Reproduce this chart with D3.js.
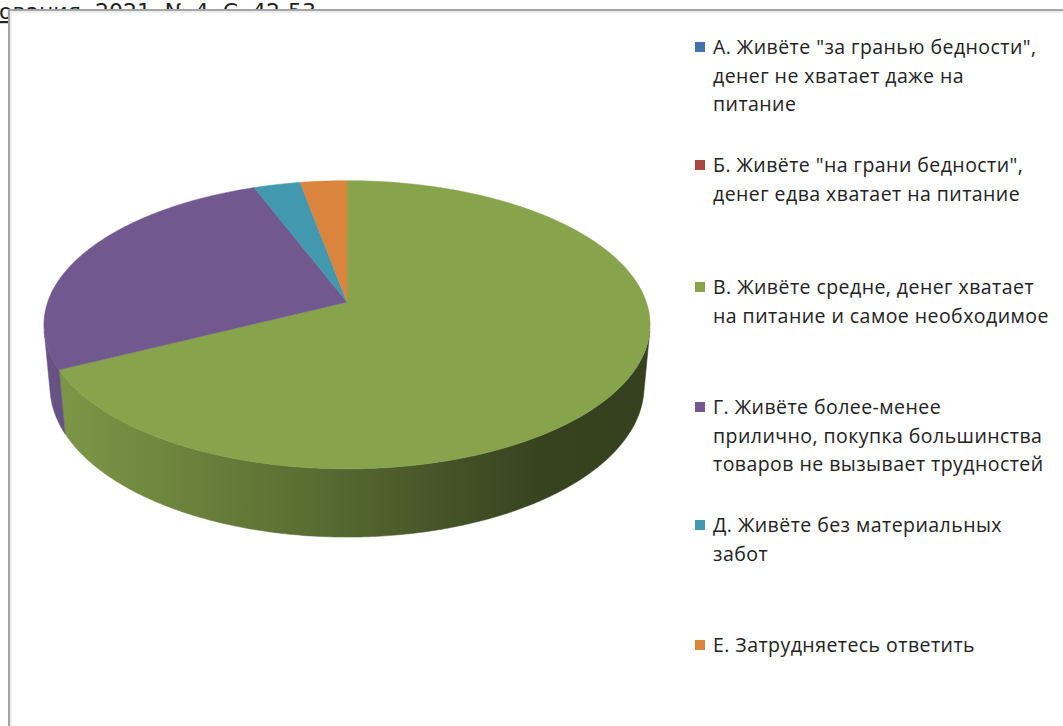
<!DOCTYPE html>
<html><head><meta charset="utf-8">
<script src="https://cdn.jsdelivr.net/npm/d3@7"></script>
<style>body{margin:0;background:#fff;overflow:hidden}svg{display:block}</style>
</head><body>
<svg id="c" width="1063" height="726"></svg>
<script>
// ---- data ----
const categories = ["А","Б","В","Г","Д","Е"];
const labelLines = [
  ["А. Живёте \"за гранью бедности\",","денег не хватает даже на","питание"],
  ["Б. Живёте \"на грани бедности\",","денег едва хватает на питание"],
  ["В. Живёте средне, денег хватает","на питание и самое необходимое"],
  ["Г. Живёте более-менее","прилично, покупка большинства","товаров не вызывает трудностей"],
  ["Д. Живёте без материальных","забот"],
  ["Е. Затрудняетесь ответить"]
];
const values = [0, 0, 67.6, 26.6, 2.9, 2.9];
const colors = ["#4572A7","#AA4643","#87A34C","#71588F","#4198AF","#DB843D"];
const sourceText = "исследования. 2021. № 4. С. 42-53";

// ---- layout ----
const svg = d3.select("#c");
// source caption behind the chart box
svg.append("text").attr("x", 316).attr("y", 19).attr("text-anchor","end")
  .attr("font-family","DejaVu Sans").attr("font-size",22).attr("fill","#222")
  .attr("text-decoration","underline").text(sourceText);
// chart box
svg.append("rect").attr("x",9).attr("y",10).attr("width",1100).attr("height",800)
  .attr("fill","#fff").attr("stroke","#a4a4a4").attr("stroke-width",2);
svg.append("line").attr("x1",11).attr("x2",11).attr("y1",12).attr("y2",726).attr("stroke","#dcdcdc").attr("stroke-width",1);
svg.append("line").attr("x1",11).attr("x2",1063).attr("y1",12).attr("y2",12).attr("stroke","#dcdcdc").attr("stroke-width",1);

// ---- 3D perspective pie ----
const cx = 347, cy = 302;
const phi = 28 * Math.PI/180, s = Math.sin(phi), c = Math.cos(phi);
const d = 5.59, f = 1673, h = 0.235;
function proj(a, z, r = 1) {
  const X = r*Math.sin(a), Y = r*Math.cos(a), Z = z;
  const depth = d + Y*c - Z*s;
  const up = Y*s + Z*c;
  return [cx + f*X/depth, cy - f*up/depth];
}
const camY = -d*c;                     // camera position along Y
const tA = Math.acos(1/camY);          // silhouette angle
const vis0 = tA, vis1 = 2*Math.PI - tA;

const arcs = d3.pie().sort(null).value(v => v)(values);
const defs = svg.append("defs");
const stopsF = [[0,0.93],[0.2,0.82],[0.45,0.66],[0.65,0.52],[0.82,0.41],[1,0.39]];
colors.forEach((col, i) => {
  const g = defs.append("linearGradient").attr("id","side"+i)
    .attr("gradientUnits","userSpaceOnUse").attr("x1",44).attr("x2",650).attr("y1",0).attr("y2",0);
  const base = d3.rgb(col);
  stopsF.forEach(([o,k]) => g.append("stop").attr("offset",o)
    .attr("stop-color", d3.rgb(base.r*k, base.g*k, base.b*k).formatHex()));
});

const line = d3.line();
function arcPts(a0, a1, z) {
  const n = Math.max(2, Math.ceil(Math.abs(a1-a0)/0.01));
  return d3.range(n+1).map(k => proj(a0 + (a1-a0)*k/n, z));
}
const gSide = svg.append("g"), gTop = svg.append("g");
arcs.forEach((a, i) => {
  if (a.endAngle - a.startAngle <= 0) return;
  const s0 = Math.max(a.startAngle, vis0), s1 = Math.min(a.endAngle, vis1);
  if (s1 > s0) {
    const pts = arcPts(s0, s1, 0).concat(arcPts(s1, s0, -h));
    gSide.append("path").attr("d", line(pts) + "Z").attr("fill", "url(#side"+i+")")
      .attr("stroke","url(#side"+i+")").attr("stroke-width",0.5);
  }
  const top = [proj(0,0,0)].concat(arcPts(a.startAngle, a.endAngle, 0));
  gTop.append("path").attr("d", line(top) + "Z").attr("fill", colors[i])
    .attr("stroke", colors[i]).attr("stroke-width",0.5);
});

// ---- legend ----
const legY = [47, 165, 287, 407, 525, 645];
const lg = svg.append("g").attr("font-family","Open Sans").attr("font-size",19.5)
  .attr("letter-spacing",0.45).attr("fill","#222");
categories.forEach((cat, i) => {
  lg.append("rect").attr("x",695).attr("y",legY[i]-5).attr("width",10).attr("height",10).attr("fill",colors[i]);
  const t = lg.append("text").attr("x",713).attr("y",legY[i]+7);
  labelLines[i].forEach((ln, j) => t.append("tspan").attr("x",713).attr("dy", j ? 28.5 : 0).text(ln));
});
</script>
</body></html>
